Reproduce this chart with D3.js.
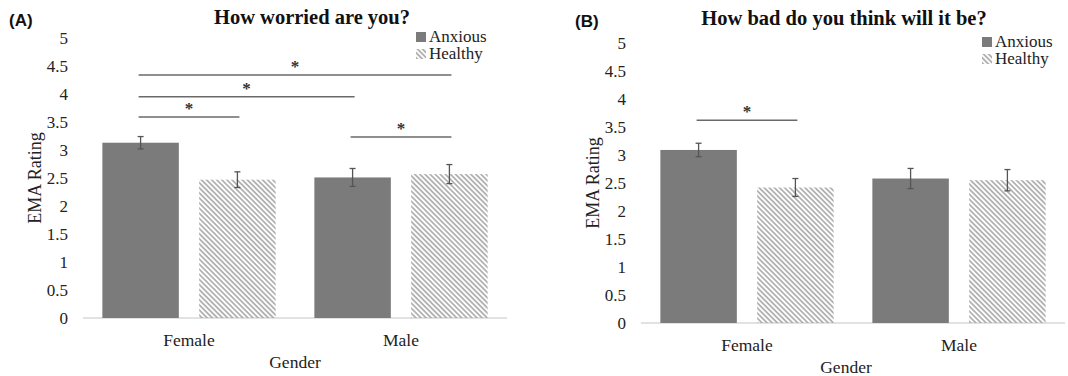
<!DOCTYPE html>
<html>
<head>
<meta charset="utf-8">
<script src="https://cdn.jsdelivr.net/npm/d3@7"></script>
<style>
  body { margin: 0; background: #fff; }
  svg { display: block; }
</style>
</head>
<body>
<svg id="chart"></svg>
<script>
// Categories and series
const genders = ["Female", "Male"];
const groups = ["Anxious", "Healthy"];
const yTicks = [0, 0.5, 1, 1.5, 2, 2.5, 3, 3.5, 4, 4.5, 5];

// (A) How worried are you?
const worriedAnxious = [3.13, 2.51];
const worriedHealthy = [2.47, 2.57];
const worriedAnxiousErr = [0.11, 0.16];
const worriedHealthyErr = [0.14, 0.17];
// significance bars: [gender, group] -> [gender, group], height in rating units
const worriedSig = [
    { a: ["Female", "Anxious"], b: ["Male", "Healthy"], level: 4.34 },
    { a: ["Female", "Anxious"], b: ["Male", "Anxious"], level: 3.95 },
    { a: ["Female", "Anxious"], b: ["Female", "Healthy"], level: 3.59 },
    { a: ["Male", "Anxious"], b: ["Male", "Healthy"], level: 3.23 }
];

// (B) How bad do you think will it be?
const badAnxious = [3.09, 2.58];
const badHealthy = [2.42, 2.55];
const badAnxiousErr = [0.12, 0.18];
const badHealthyErr = [0.16, 0.19];
const badSig = [
    { a: ["Female", "Anxious"], b: ["Female", "Healthy"], level: 3.62 }
];

const width = 1068, height = 376;
const serif = "'Liberation Serif', 'Times New Roman', serif";

const svg = d3.select("#chart")
    .attr("width", width)
    .attr("height", height);

// hatch pattern for the healthy bars
const defs = svg.append("defs");
defs.append("pattern")
    .attr("id", "hatch")
    .attr("patternUnits", "userSpaceOnUse")
    .attr("width", 3.6)
    .attr("height", 3.6)
    .attr("patternTransform", "rotate(-45)")
    .append("line")
    .attr("x1", 0.9).attr("y1", 0)
    .attr("x2", 0.9).attr("y2", 3.6)
    .attr("stroke", "#a3a3a3")
    .attr("stroke-width", 1.5);

const fills = { Anxious: "#7b7b7b", Healthy: "url(#hatch)" };

function drawPanel(opt) {
    const g = svg.append("g");

    const y = d3.scaleLinear().domain([0, 5]).range([opt.bottom, opt.top]);
    const x0 = d3.scaleBand().domain(genders).range([opt.left, opt.right]);
    const x1 = d3.scaleBand().domain(groups)
        .range([0, x0.bandwidth()])
        .paddingInner(0.21)
        .paddingOuter(0.2);

    const rows = [];
    genders.forEach((gender, i) => {
        rows.push({ gender, group: "Anxious", value: opt.anxious[i], err: opt.anxiousErr[i] });
        rows.push({ gender, group: "Healthy", value: opt.healthy[i], err: opt.healthyErr[i] });
    });
    const cx = (gender, group) => x0(gender) + x1(group) + x1.bandwidth() / 2;

    // y axis
    const yAxis = g.append("g")
        .attr("transform", `translate(${opt.left - 15},0)`)
        .call(d3.axisLeft(y).tickValues(yTicks).tickSize(0).tickPadding(0).tickFormat(d3.format("")));
    yAxis.attr("font-family", null).attr("font-size", null);
    yAxis.select(".domain").remove();
    yAxis.selectAll("text")
        .style("font-family", serif)
        .style("font-size", "17px")
        .attr("fill", "#222");

    // baseline
    g.append("line")
        .attr("x1", opt.left).attr("x2", opt.right)
        .attr("y1", y(0)).attr("y2", y(0))
        .attr("stroke", "#d9d9d9")
        .attr("stroke-width", 1.5);

    // bars
    g.selectAll(".bar")
        .data(rows)
        .enter()
        .append("rect")
        .attr("class", "bar")
        .attr("x", d => x0(d.gender) + x1(d.group))
        .attr("y", d => y(d.value))
        .attr("width", x1.bandwidth())
        .attr("height", d => y(0) - y(d.value))
        .attr("fill", d => fills[d.group]);

    // error bars
    const eb = g.selectAll(".err")
        .data(rows)
        .enter()
        .append("g")
        .attr("class", "err")
        .attr("stroke", "#555")
        .attr("stroke-width", 1.3);
    eb.append("line")
        .attr("x1", d => cx(d.gender, d.group)).attr("x2", d => cx(d.gender, d.group))
        .attr("y1", d => y(d.value + d.err)).attr("y2", d => y(d.value - d.err));
    [1, -1].forEach(s => {
        eb.append("line")
            .attr("x1", d => cx(d.gender, d.group) - 3).attr("x2", d => cx(d.gender, d.group) + 3)
            .attr("y1", d => y(d.value + s * d.err)).attr("y2", d => y(d.value + s * d.err));
    });

    // significance lines
    g.selectAll(".sig")
        .data(opt.sig)
        .enter()
        .append("line")
        .attr("class", "sig")
        .attr("x1", d => cx(d.a[0], d.a[1]) - 2)
        .attr("x2", d => cx(d.b[0], d.b[1]) + 2)
        .attr("y1", d => y(d.level)).attr("y2", d => y(d.level))
        .attr("stroke", "#6a6a6a")
        .attr("stroke-width", 1.5);
    g.selectAll(".star")
        .data(opt.sig)
        .enter()
        .append("text")
        .attr("class", "star")
        .attr("x", d => (cx(d.a[0], d.a[1]) + cx(d.b[0], d.b[1])) / 2)
        .attr("y", d => y(d.level) - 3)
        .attr("text-anchor", "middle")
        .attr("font-family", serif)
        .attr("font-size", "17px")
        .attr("font-weight", "bold")
        .attr("fill", "#333")
        .text("*");

    // x labels
    g.selectAll(".xlab")
        .data(genders)
        .enter()
        .append("text")
        .attr("class", "xlab")
        .attr("x", d => x0(d) + x0.bandwidth() / 2)
        .attr("y", opt.bottom + 28)
        .attr("text-anchor", "middle")
        .attr("font-family", serif)
        .attr("font-size", "17.5px")
        .attr("fill", "#222")
        .text(d => d);

    g.append("text")
        .attr("x", opt.genderX)
        .attr("y", opt.bottom + 50)
        .attr("text-anchor", "middle")
        .attr("font-family", serif)
        .attr("font-size", "17.5px")
        .attr("fill", "#222")
        .text("Gender");

    g.append("text")
        .attr("transform", `translate(${opt.left - 42},${(opt.top + opt.bottom) / 2}) rotate(-90)`)
        .attr("text-anchor", "middle")
        .attr("font-family", serif)
        .attr("font-size", "18px")
        .attr("fill", "#222")
        .text("EMA Rating");

    // title + panel letter
    g.append("text")
        .attr("x", opt.titleX)
        .attr("y", opt.titleY)
        .attr("text-anchor", "middle")
        .attr("font-family", serif)
        .attr("font-size", "20.5px")
        .attr("font-weight", "bold")
        .attr("fill", "#111")
        .text(opt.title);

    g.append("text")
        .attr("x", opt.letterX)
        .attr("y", opt.titleY + 2)
        .attr("font-family", "'Liberation Sans', Arial, sans-serif")
        .attr("font-size", "17px")
        .attr("font-weight", "bold")
        .attr("fill", "#111")
        .text(opt.letter);

    // legend
    const lg = g.selectAll(".legend")
        .data(groups)
        .enter()
        .append("g")
        .attr("class", "legend")
        .attr("transform", (d, i) => `translate(${opt.legendX},${opt.legendY + i * 17})`);
    lg.append("rect")
        .attr("x", 0).attr("y", -10)
        .attr("width", 10).attr("height", 10)
        .attr("fill", d => fills[d]);
    lg.append("text")
        .attr("x", 13)
        .attr("y", 0)
        .attr("font-family", serif)
        .attr("font-size", "17px")
        .attr("fill", "#222")
        .text(d => d);
}

drawPanel({
    left: 83, right: 507, top: 38, bottom: 318,
    anxious: worriedAnxious, healthy: worriedHealthy,
    anxiousErr: worriedAnxiousErr, healthyErr: worriedHealthyErr,
    sig: worriedSig,
    title: "How worried are you?", titleX: 312, titleY: 24,
    letter: "(A)", letterX: 9,
    legendX: 416, legendY: 42, genderX: 295
});

drawPanel({
    left: 641, right: 1065, top: 43, bottom: 323,
    anxious: badAnxious, healthy: badHealthy,
    anxiousErr: badAnxiousErr, healthyErr: badHealthyErr,
    sig: badSig,
    title: "How bad do you think will it be?", titleX: 844, titleY: 25,
    letter: "(B)", letterX: 575,
    legendX: 982, legendY: 47, genderX: 846
});
</script>
</body>
</html>
